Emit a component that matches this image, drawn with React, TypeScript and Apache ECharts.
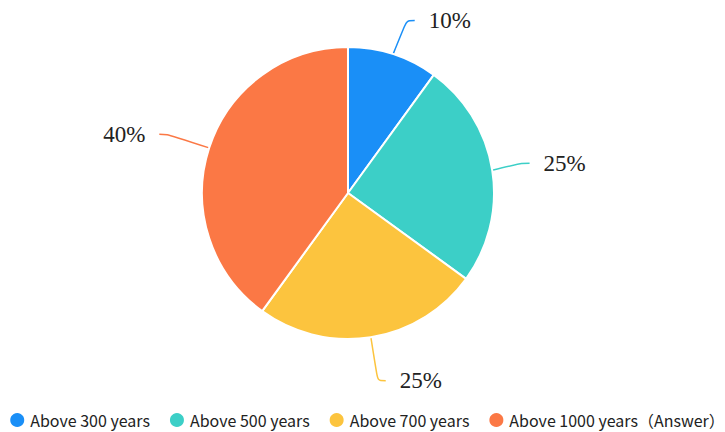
import React, { useEffect, useRef } from "react";
import * as echarts from "echarts";

const categories = ["Above 300 years", "Above 500 years", "Above 700 years", "Above 1000 years（Answer）"];
const values = [10, 25, 25, 40];
const colors = ["#1a8ff7", "#3ccfc7", "#fcc43e", "#fb7845"];

export default function App() {
  const ref = useRef<HTMLDivElement>(null);
  useEffect(() => {
    if (!ref.current) return;
    const chart = echarts.init(ref.current, null, { renderer: "svg" });
    chart.setOption({
      animation: false,
      color: colors,
      legend: {
        data: categories,
        left: "center",
        bottom: -2,
        width: 717,
        icon: "circle",
        itemWidth: 16,
        itemHeight: 16,
        itemGap: 18,
        textStyle: { fontSize: 16, color: "#222", fontFamily: "Noto Sans CJK SC" },
      },
      series: [
        {
          type: "pie",
          center: [340, 185],
          radius: [0, 146],
          startAngle: 90,
          clockwise: true,
          data: categories.map((c, i) => ({ name: c, value: values[i] })),
          itemStyle: { borderColor: "#fff", borderWidth: 2 },
          label: {
            formatter: "{d}%",
            fontFamily: "'Times New Roman', 'Liberation Serif', serif",
            fontSize: 23,
            color: "#222",
            distanceToLabelLine: 14,
          },
          labelLine: { length: 44, length2: 8, smooth: 0.3, lineStyle: { width: 1.5 } },
        },
      ],
    });
    return () => chart.dispose();
  }, []);
  return <div ref={ref} style={{ width: 717, height: 424 }} />;
}
